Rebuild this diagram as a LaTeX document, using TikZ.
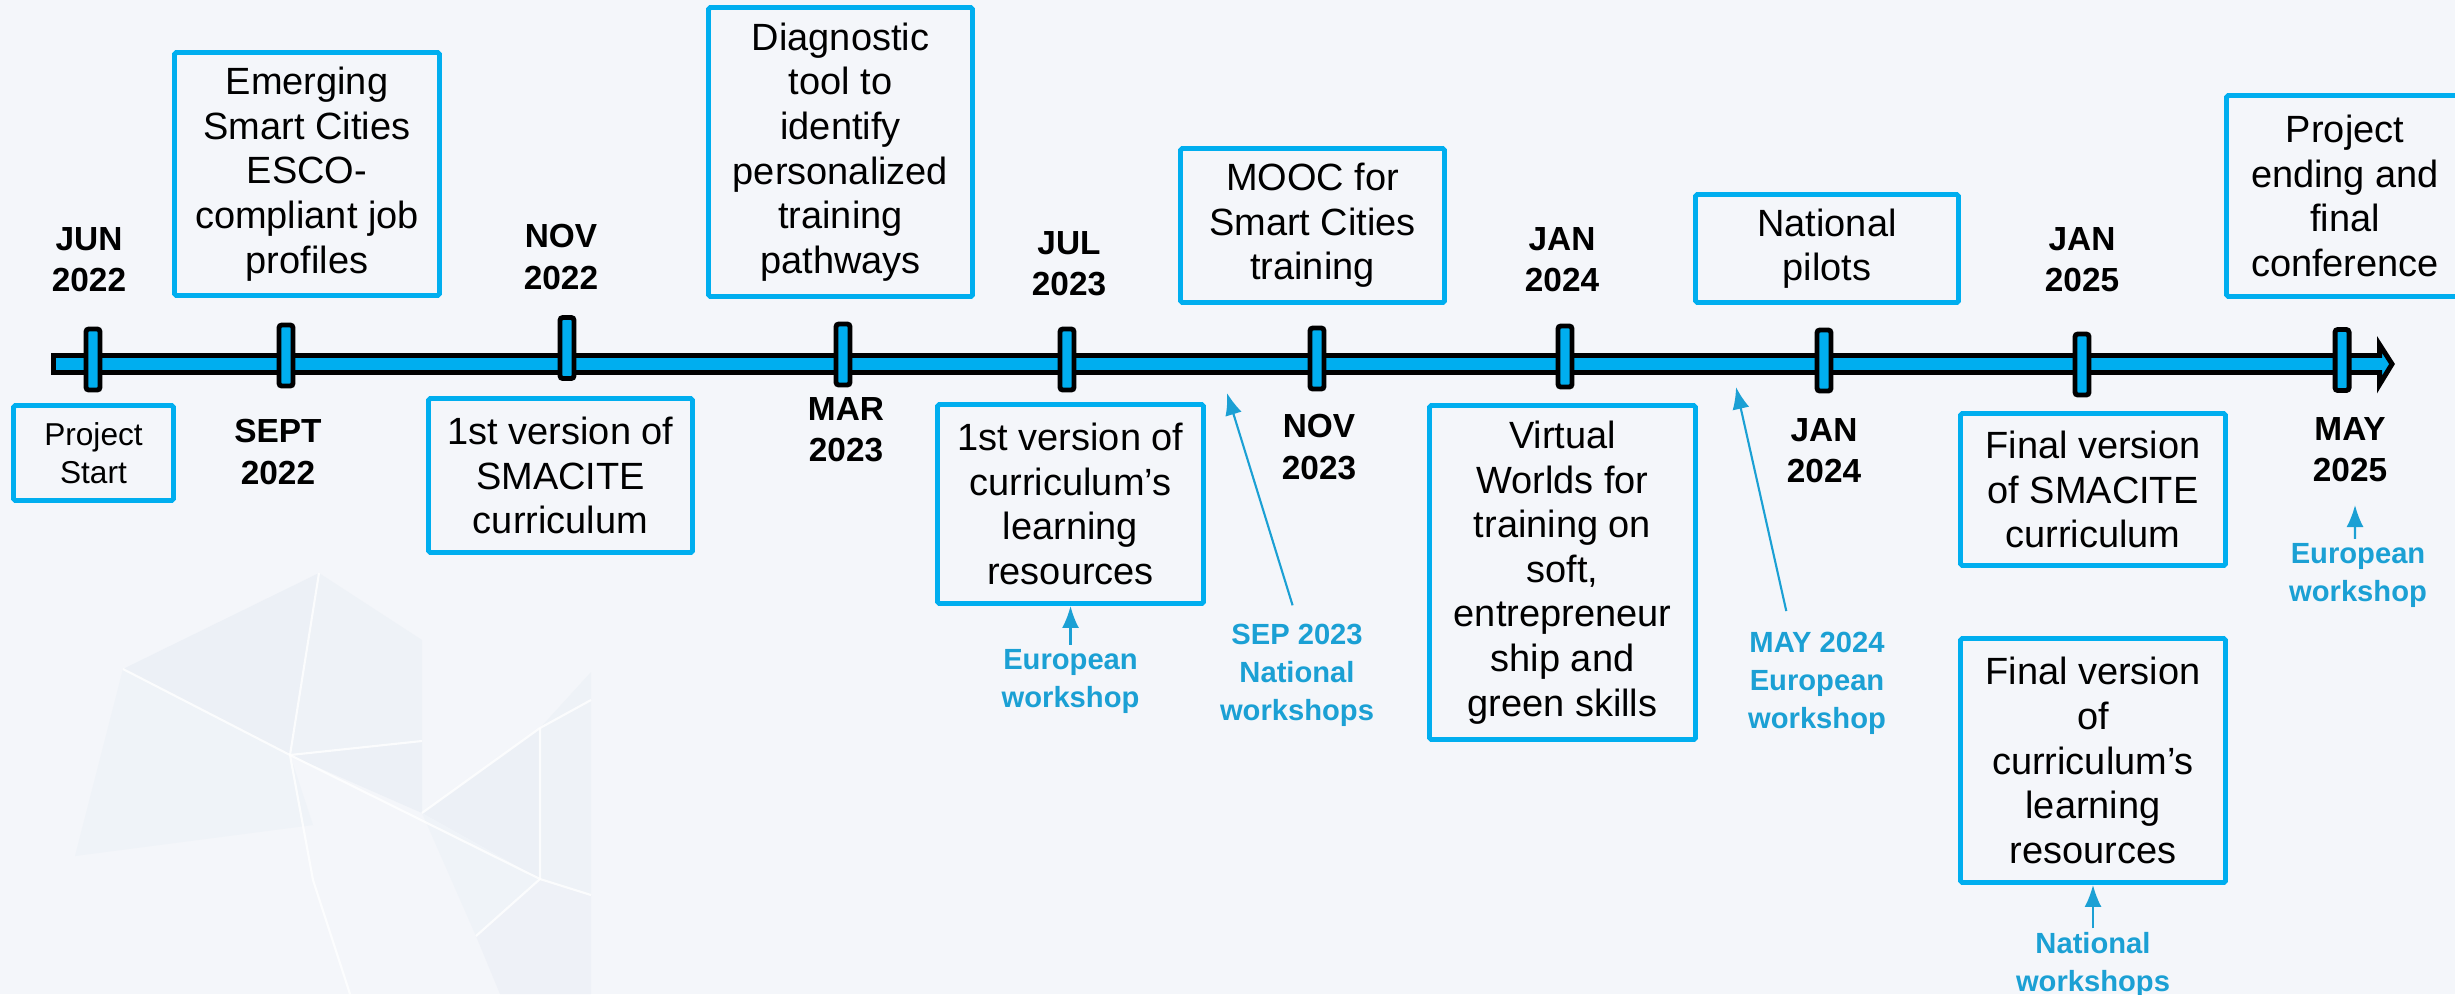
\documentclass[tikz,border=0pt]{standalone}
\usepackage{fontspec}
\setmainfont{Liberation Sans}
\usetikzlibrary{positioning, arrows.meta}

\definecolor{bgcol}{RGB}{244,246,250}
\definecolor{facet}{RGB}{236,240,246}
\definecolor{linecyan}{RGB}{0,174,239}
\definecolor{wsblue}{RGB}{27,160,212}

\begin{document}
\begin{tikzpicture}[x=0.1mm,y=-0.1mm,
  box/.style={draw=linecyan, line width=1.4pt, rounded corners=0.5pt, align=center, inner sep=0pt, font=\fontsize{10.8}{12.7}\selectfont},
  tick/.style={draw=black, fill=linecyan, line width=1.4pt, rounded corners=0.8pt, minimum width=1.4mm, minimum height=6.1mm, inner sep=0pt},
  date/.style={align=center, font=\bfseries\fontsize{9.5}{11.7}\selectfont},
  wslabel/.style={align=center, inner sep=1pt, text=wsblue, font=\bfseries\fontsize{8.3}{10.8}\selectfont},
  wsarrow/.style={draw=wsblue, line width=0.6pt, -{Latex[length=2.2mm, width=1.7mm]}},
  facetline/.style={white, line width=0.6pt, opacity=0.8}]

% Background
\path[use as bounding box, fill=bgcol] (0,0) rectangle (2455,994);
\fill[facet] (319,573) -- (123,669) -- (290,755) -- cycle;
\fill[facet!60!bgcol] (123,669) -- (290,755) -- (313,825) -- (75,856) -- cycle;
\fill[facet!70!bgcol] (319,573) -- (422,640) -- (422,741) -- (290,755) -- cycle;
\fill[facet] (290,755) -- (422,741) -- (422,813) -- cycle;
\fill[facet] (422,813) -- (540,728) -- (540,879) -- cycle;
\fill[facet!70!bgcol] (540,728) -- (591,672) -- (591,895) -- (540,879) -- cycle;
\fill[facet!60!bgcol] (422,813) -- (540,879) -- (476,936) -- cycle;
\fill[facet!80!bgcol] (476,936) -- (540,879) -- (591,895) -- (591,994) -- (500,994) -- cycle;
\draw[facetline] (319,573) -- (290,755) -- (313,880) -- (350,994);
\draw[facetline] (123,669) -- (290,755) -- (422,741);
\draw[facetline] (290,755) -- (540,879) -- (591,895);
\draw[facetline] (540,728) -- (540,879) -- (476,936);
\draw[facetline] (422,813) -- (540,728) -- (591,700);

% Timeline
\draw[draw=black, fill=linecyan, line width=1.4pt, line join=miter]
  (53.5,355.5) -- (2379.5,355.5) -- (2379.5,344.5) -- (2392,364) -- (2379.5,384.5) -- (2379.5,372.5) -- (53.5,372.5) -- cycle;

% Ticks
\node[tick] (t1) at (93,359.5) {};
\node[tick] (t2) at (286,355.5) {};
\node[tick] (t3) at (567,348) {};
\node[tick] (t4) at (843,354.5) {};
\node[tick] (t5) at (1067,359.5) {};
\node[tick] (t6) at (1317,358.5) {};
\node[tick] (t7) at (1565,356.5) {};
\node[tick] (t8) at (1824,360.5) {};
\node[tick] (t9) at (2082,364.5) {};
\node[tick] (t10) at (2342,360) {};

% Dates
\node[date] (jun22) at (89,260) {JUN\\2022};
\node[date] (sep22) at (278,452) {SEPT\\2022};
\node[date] (nov22) at (561,257) {NOV\\2022};
\node[date] (mar23) at (846,430) {MAR\\2023};
\node[date] (jul23) at (1069,264) {JUL\\2023};
\node[date] (nov23) at (1319,447) {NOV\\2023};
\node[date] (jan24a) at (1562,260) {JAN\\2024};
\node[date] (jan24b) at (1824,451) {JAN\\2024};
\node[date] (jan25) at (2082,260) {JAN\\2025};
\node[date] (may25) at (2350,450) {MAY\\2025};

% Milestones
\node[box, minimum width=16mm, minimum height=9.5mm, font=\fontsize{9}{10.9}\selectfont] (start) at (93.5,453) {Project\\Start};
\node[box, minimum width=26.5mm, minimum height=24.3mm] (profiles) at (307,174) {Emerging\\Smart Cities\\ESCO-\\compliant job\\profiles};
\node[box, minimum width=26.4mm, minimum height=15.4mm] (smacite1) at (560.5,475.5) {1st version of\\SMACITE\\curriculum};
\node[box, minimum width=26.4mm, minimum height=28.9mm] (diagnostic) at (840.5,152) {Diagnostic\\tool to\\identify\\personalized\\training\\pathways};
\node[box, minimum width=26.6mm, minimum height=19.9mm] (resources1) at (1070.5,504) {1st version of\\curriculum’s\\learning\\resources};
\node[box, minimum width=26.4mm, minimum height=15.4mm] (mooc) at (1312.5,225.5) {MOOC for\\Smart Cities\\training};
\node[box, minimum width=26.6mm, minimum height=33.4mm] (virtual) at (1562.5,572.5) {Virtual\\Worlds for\\training on\\soft,\\entrepreneur\\ship and\\green skills};
\node[box, minimum width=26.3mm, minimum height=10.8mm] (pilots) at (1827,248.5) {National\\pilots};
\node[box, minimum width=26.5mm, minimum height=15.2mm] (smacite2) at (2093,489.5) {Final version\\of SMACITE\\curriculum};
\node[box, minimum width=23.7mm, minimum height=20.1mm] (ending) at (2345,196) {Project\\ending and\\final\\conference};
\node[box, minimum width=26.5mm, minimum height=24.4mm] (resources2) at (2093,760.5) {Final version\\of\\curriculum’s\\learning\\resources};

% Workshops
\node[wslabel, below=3.9mm of resources1.south] (euro1) {European\\workshop};
\node[wslabel] (sep23) at (1297,675) {SEP 2023\\National\\workshops};
\node[wslabel] (may24) at (1817,683) {MAY 2024\\European\\workshop};
\node[wslabel] (euro2) at (2358,575) {European\\workshop};
\node[wslabel, below=4.35mm of resources2.south] (national2) {National\\workshops};

\coordinate (sepTip) at (1227,393);
\coordinate (mayTip) at (1736,387);
\coordinate (euroTip) at (2355,505);

\draw[wsarrow] (euro1.north) -- (resources1.south);
\draw[wsarrow, shorten <=1.5mm] (sep23.north) -- (sepTip);
\draw[wsarrow, shorten <=1.7mm] ([xshift=-2.7mm]may24.north) -- (mayTip);
\draw[wsarrow] ([xshift=-0.3mm]euro2.north) -- (euroTip);
\draw[wsarrow] (national2.north) -- (resources2.south);

\end{tikzpicture}
\end{document}
